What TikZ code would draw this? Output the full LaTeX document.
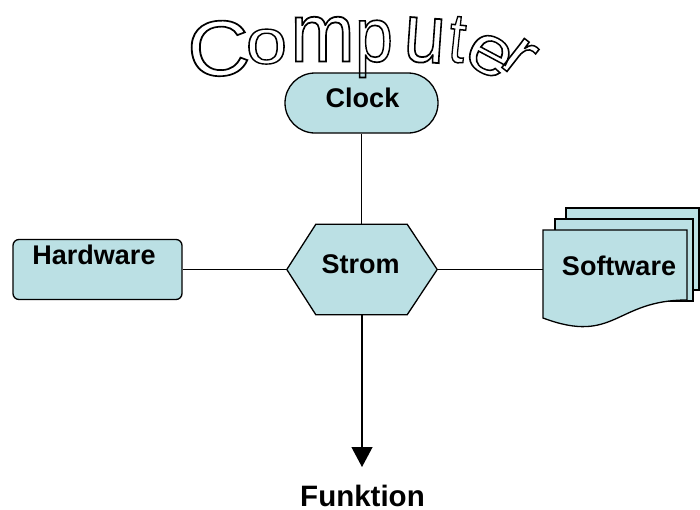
\documentclass[tikz,border=0pt]{standalone}
\usepackage{fontspec}
\setmainfont{Liberation Sans}
\usepackage{graphicx}
\usetikzlibrary{shapes.misc,arrows.meta,calc}
\definecolor{boxfill}{RGB}{187,224,228}
\newcommand{\outl}[1]{\special{pdf:literal direct 1 Tr 1.7 w}#1\special{pdf:literal direct 0 Tr}}
\tikzset{
  shapebox/.style={draw=black, line width=1.3pt, fill=boxfill},
  lbl/.style={font=\fontsize{27}{32}\selectfont\bfseries, inner sep=0pt},
  conn/.style={draw=black, line width=1.2pt},
  ttl/.style={inner sep=0pt, anchor=base, font=\fontsize{80}{96}\selectfont},
}
\begin{document}
\begin{tikzpicture}[x=1pt,y=-1pt]
\useasboundingbox (0,0) rectangle (700,509);

% Clock
\node[shapebox, rounded rectangle, minimum width=153pt, minimum height=60pt, inner sep=0pt] (clock) at (361.5,103) {};
\node[lbl] (clockl) at (362.5,98) {Clock};

% Hardware
\node[shapebox, rounded corners=6pt, minimum width=169pt, minimum height=60pt, inner sep=0pt] (hw) at (97.5,269.5) {};
\node[lbl] (hwl) at (94,254.5) {Hardware};

% Strom (hexagon)
\node[minimum width=150pt, minimum height=90pt, inner sep=0pt] (strom) at (362,269.5) {};
\draw[shapebox] (strom.west) -- ($(strom.north west)+(29,0)$) -- ($(strom.north east)+(-30,0)$)
  -- (strom.east) -- ($(strom.south east)+(-30,0)$) -- ($(strom.south west)+(29,0)$) -- cycle;
\node[lbl] (stroml) at (360.5,264.5) {Strom};

% Software (multi document)
\node[minimum width=144pt, minimum height=76pt, inner sep=0pt] (sw) at (615,269.5) {};
\draw[shapebox] (566,208) rectangle (699,290);
\draw[shapebox] (555,219) rectangle (693,301);
\draw[shapebox] (543,230) -- (687,230) -- (687,300) .. controls (615,300) and (615,345) .. (543,318) -- cycle;
\node[lbl] (swl) at (619,266) {Software};

% Funktion
\coordinate (tip) at (362,467);
\node[lbl, font=\fontsize{29.5}{34}\selectfont\bfseries] (funk) at (362.5,495.5) {Funktion};

% connectors
\draw[conn] (clock.south) -- (clock.south |- strom.north);
\draw[conn] (hw.east) -- (strom.west);
\draw[conn] (strom.east) -- (sw.west);
\draw[conn, -{Triangle[width=21pt,length=20pt]}] (strom.south) -- (tip);

% title "Computer" (letters placed by their baseline)
\node[ttl, rotate=4]   (t1) at (220.4,75.5) {\scalebox{1.08}[0.98]{\outl{C}}};
\node[ttl]             (t2) at (266.5,63.5) {\scalebox{0.93}[0.8]{\outl{o}}};
\node[ttl]             (t3) at (322.5,61.5) {\scalebox{0.96}[1.04]{\outl{m}}};
\node[ttl]             (t4) at (374,61.5)   {\scalebox{0.85}[0.96]{\outl{p}}};
\node[ttl, rotate=-4]  (t5) at (423,62)     {\scalebox{0.93}[1.04]{\outl{u}}};
\node[ttl, rotate=-6]  (t6) at (455,62)     {\scalebox{0.75}[0.88]{\outl{t}}};
\node[ttl, rotate=-28] (t7) at (480.7,71.6) {\scalebox{1.0}[0.87]{\outl{e}}};
\node[ttl, rotate=-38] (t8) at (507.5,71.9) {\scalebox{0.92}[0.87]{\outl{r}}};
\end{tikzpicture}
\end{document}
